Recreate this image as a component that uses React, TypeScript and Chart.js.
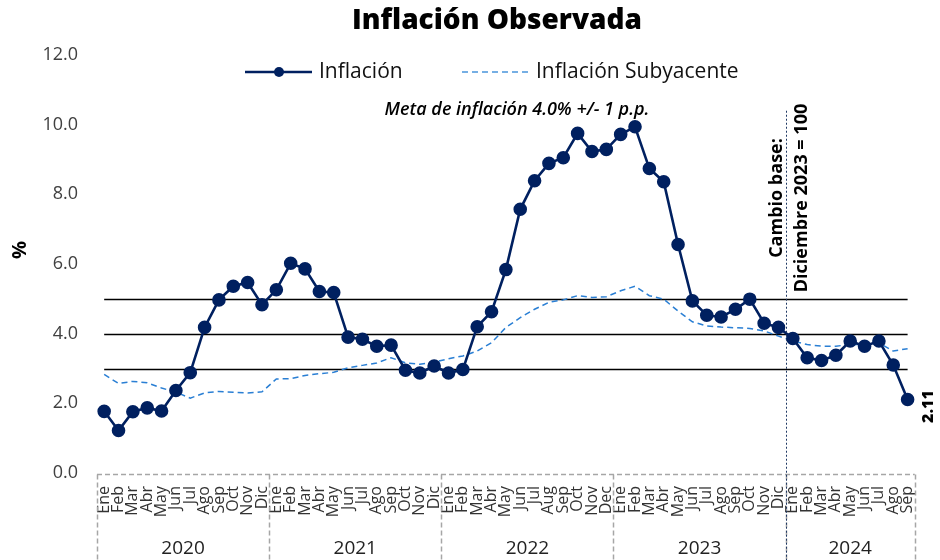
import React, { useEffect, useRef } from "react";
import { Chart, registerables } from "chart.js";

Chart.register(...registerables);

const chartTitle = "Inflación Observada";
const seriesNames = ["Inflación", "Inflación Subyacente"];
const years = ["2020", "2021", "2022", "2023", "2024"];
const monthsPerYear = [12, 12, 12, 12, 9];
const monthLabels = [
  "Ene", "Feb", "Mar", "Abr", "May", "Jun", "Jul", "Ago", "Sep", "Oct", "Nov", "Dic",
  "Ene", "Feb", "Mar", "Abr", "May", "Jun", "Jul", "Ago", "Sep", "Oct", "Nov", "Dic",
  "Ene", "Feb", "Mar", "Abr", "May", "Jun", "Jul", "Aug", "Sep", "Oct", "Nov", "Dec",
  "Ene", "Feb", "Mar", "Abr", "May", "Jun", "Jul", "Ago", "Sep", "Oct", "Nov", "Dic",
  "Ene", "Feb", "Mar", "Abr", "May", "Jun", "Jul", "Ago", "Sep",
];
const inflation = [
  1.77, 1.22, 1.76, 1.87, 1.78, 2.37, 2.88, 4.18, 4.97, 5.36, 5.47, 4.83,
  5.26, 6.02, 5.86, 5.21, 5.18, 3.9, 3.84, 3.64, 3.67, 2.95, 2.87, 3.07,
  2.87, 2.97, 4.2, 4.63, 5.84, 7.57, 8.39, 8.89, 9.05, 9.75, 9.23, 9.29,
  9.72, 9.94, 8.74, 8.36, 6.56, 4.94, 4.53, 4.48, 4.7, 4.99, 4.3, 4.18,
  3.86, 3.31, 3.23, 3.38, 3.79, 3.64, 3.79, 3.1, 2.11,
];
const coreInflation = [
  2.83, 2.57, 2.63, 2.59, 2.44, 2.32, 2.15, 2.3, 2.34, 2.32, 2.3, 2.33,
  2.7, 2.71, 2.8, 2.85, 2.89, 3.02, 3.09, 3.16, 3.31, 3.16, 3.12, 3.18,
  3.28, 3.36, 3.5, 3.74, 4.18, 4.46, 4.7, 4.9, 4.97, 5.09, 5.04, 5.06,
  5.23, 5.36, 5.09, 4.99, 4.65, 4.34, 4.22, 4.19, 4.17, 4.15, 4.08, 3.93,
  3.79, 3.69, 3.64, 3.64, 3.69, 3.69, 3.74, 3.5, 3.57,
];
const targetLines = [3, 4, 5];
const yMin = 0;
const yMax = 12;
const yStep = 2;
const targetText = "Meta de inflación 4.0% +/- 1 p.p.";
const baseChangeText = ["Cambio base:", "Diciembre 2023 = 100"];
const baseChangeYear = "2024";
const baseLineTopValue = 10.4;

const NAVY = "#002060";
const CORE = "#2a7fd4";
const FONT = "'Open Sans', sans-serif";

const overlayPlugin = {
  id: "overlay",
  beforeDatasetsDraw(chart: any) {
    const { ctx, scales } = chart;
    const x = scales.x;
    const y = scales.y;
    const x0 = x.getPixelForValue(0);
    const x1 = x.getPixelForValue(monthLabels.length - 1);
    ctx.save();
    ctx.strokeStyle = "#000";
    ctx.lineWidth = 1.4;
    targetLines.forEach((v) => {
      const py = Math.round(y.getPixelForValue(v)) + 0.5;
      ctx.beginPath();
      ctx.moveTo(x0, py);
      ctx.lineTo(x1, py);
      ctx.stroke();
    });
    ctx.restore();
  },
  afterDraw(chart: any) {
    const { ctx, scales, chartArea, height } = chart;
    const x = scales.x;
    const y = scales.y;
    const n = monthLabels.length;
    const step = (x.getPixelForValue(n - 1) - x.getPixelForValue(0)) / (n - 1);
    ctx.save();

    // Title
    ctx.fillStyle = "#000";
    ctx.font = `800 28px ${FONT}`;
    ctx.textAlign = "center";
    ctx.textBaseline = "middle";
    ctx.fillText(chartTitle, 497, 21);

    // Legend
    const ly = 72;
    ctx.strokeStyle = NAVY;
    ctx.lineWidth = 2.5;
    ctx.beginPath();
    ctx.moveTo(245, ly);
    ctx.lineTo(312, ly);
    ctx.stroke();
    ctx.fillStyle = NAVY;
    ctx.beginPath();
    ctx.arc(279, ly, 5, 0, Math.PI * 2);
    ctx.fill();
    ctx.fillStyle = "#111";
    ctx.font = `400 21px ${FONT}`;
    ctx.textAlign = "left";
    ctx.fillText(seriesNames[0], 319, ly);
    ctx.strokeStyle = "#4a95dc";
    ctx.lineWidth = 1.5;
    ctx.setLineDash([6, 4]);
    ctx.beginPath();
    ctx.moveTo(462, ly);
    ctx.lineTo(528, ly);
    ctx.stroke();
    ctx.setLineDash([]);
    ctx.fillText(seriesNames[1], 536, ly);

    // Target text
    ctx.font = `italic 600 18px ${FONT}`;
    ctx.textAlign = "center";
    ctx.fillStyle = "#000";
    ctx.fillText(targetText, 517, 110);

    // Y axis title
    ctx.save();
    ctx.translate(20, 250);
    ctx.rotate(-Math.PI / 2);
    ctx.font = `700 20px ${FONT}`;
    ctx.textAlign = "center";
    ctx.fillText("%", 0, 0);
    ctx.restore();

    // Year groups
    const boxTop = Math.round(chartArea.bottom) + 1.5;
    const bounds: number[] = [];
    let idx = 0;
    bounds.push(x.getPixelForValue(0) - step / 2);
    monthsPerYear.forEach((m) => {
      idx += m;
      bounds.push(x.getPixelForValue(idx - 1) + step / 2);
    });
    ctx.strokeStyle = "#a6a6a6";
    ctx.lineWidth = 1.5;
    ctx.setLineDash([5, 3]);
    ctx.beginPath();
    ctx.moveTo(bounds[0], boxTop);
    ctx.lineTo(bounds[bounds.length - 1], boxTop);
    ctx.stroke();
    bounds.forEach((bx) => {
      ctx.beginPath();
      ctx.moveTo(Math.round(bx) + 0.5, boxTop);
      ctx.lineTo(Math.round(bx) + 0.5, height);
      ctx.stroke();
    });
    ctx.setLineDash([]);
    ctx.fillStyle = "#222";
    ctx.font = `400 19px ${FONT}`;
    ctx.textAlign = "center";
    years.forEach((yr, i) => {
      ctx.fillText(yr, (bounds[i] + bounds[i + 1]) / 2, 549);
    });

    // Base change vertical line
    const yi = years.indexOf(baseChangeYear);
    const bxLine = Math.round(bounds[yi]) + 0.5;
    ctx.strokeStyle = "#1f3864";
    ctx.lineWidth = 1;
    ctx.setLineDash([2, 2]);
    ctx.beginPath();
    ctx.moveTo(bxLine, y.getPixelForValue(baseLineTopValue));
    ctx.lineTo(bxLine, height);
    ctx.stroke();
    ctx.setLineDash([]);
    ctx.fillStyle = "#000";
    ctx.font = `700 18px ${FONT}`;
    ctx.textAlign = "center";
    [[-10, 0], [15, 1]].forEach(([dx, li]) => {
      ctx.save();
      ctx.translate(bxLine + dx, 198);
      ctx.rotate(-Math.PI / 2);
      ctx.fillText(baseChangeText[li], 0, 0);
      ctx.restore();
    });

    // Last value label
    const last = inflation[n - 1];
    ctx.save();
    ctx.translate(x.getPixelForValue(n - 1) + 21, y.getPixelForValue(last) + 7);
    ctx.rotate(-Math.PI / 2);
    ctx.font = `800 16px ${FONT}`;
    ctx.textAlign = "center";
    ctx.fillText(last.toFixed(2), 0, 0);
    ctx.restore();

    ctx.restore();
  },
};

export default function App() {
  const canvasRef = useRef<HTMLCanvasElement | null>(null);

  useEffect(() => {
    document.body.style.margin = "0";
    const canvas = canvasRef.current;
    if (!canvas) return;
    const chart = new Chart(canvas, {
      type: "line",
      data: {
        labels: monthLabels,
        datasets: [
          {
            label: seriesNames[0],
            data: inflation,
            borderColor: NAVY,
            backgroundColor: NAVY,
            pointBackgroundColor: NAVY,
            pointBorderColor: NAVY,
            pointRadius: 5.5,
            borderWidth: 2.6,
            tension: 0,
            order: 0,
          },
          {
            label: seriesNames[1],
            data: coreInflation,
            borderColor: CORE,
            borderDash: [6, 4],
            borderWidth: 1.5,
            pointRadius: 0,
            tension: 0,
            order: 1,
          },
        ],
      },
      options: {
        responsive: false,
        devicePixelRatio: 1,
        animation: false,
        events: [],
        layout: { padding: { top: 55, right: 22, left: 0, bottom: 0 } },
        plugins: {
          legend: { display: false },
          title: { display: false },
          tooltip: { enabled: false },
        },
        scales: {
          x: {
            offset: true,
            grid: { display: false, drawTicks: false, offset: true },
            border: { display: false },
            ticks: {
              autoSkip: false,
              minRotation: 90,
              maxRotation: 90,
              padding: 13,
              color: "#333",
              font: { family: FONT, size: 16 },
            },
            afterFit: (s: any) => {
              s.height = 87;
            },
          },
          y: {
            min: yMin,
            max: yMax,
            grid: { display: false, drawTicks: false },
            border: { display: false },
            ticks: {
              stepSize: yStep,
              padding: 19,
              color: "#404040",
              font: { family: FONT, size: 18 },
              callback: (v: any) => Number(v).toFixed(1),
            },
            afterFit: (s: any) => {
              s.width = 97;
            },
          },
        },
      },
      plugins: [overlayPlugin],
    } as any);
    return () => chart.destroy();
  }, []);

  return (
    <div style={{ width: 940, height: 560 }}>
      <canvas ref={canvasRef} width={940} height={560} style={{ display: "block" }} />
    </div>
  );
}
